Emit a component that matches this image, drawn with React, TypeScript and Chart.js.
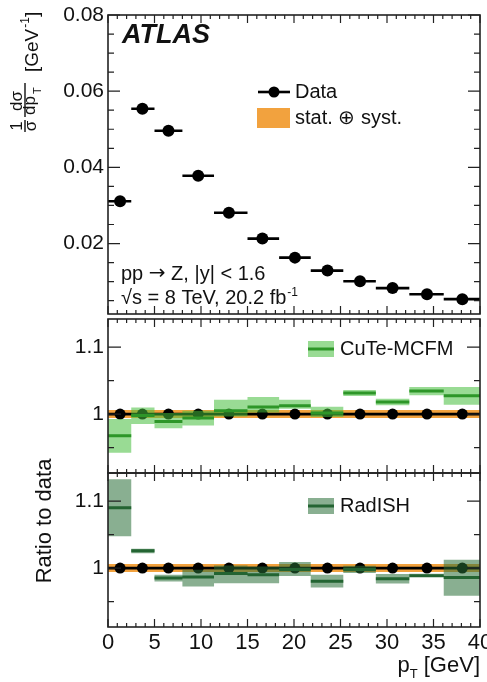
import React, { useEffect, useRef } from 'react';
import { Chart, registerables } from 'chart.js';

Chart.register(...registerables);

const FONT = "'Liberation Sans', Arial, Helvetica, sans-serif";

// ---------------- data ----------------
const binEdges = [0, 2.5, 5, 8, 11.4, 15, 18.4, 21.8, 25.3, 28.8, 32.4, 36.1, 40];
const ptCenters = [1.3, 3.7, 6.5, 9.7, 13.0, 16.6, 20.1, 23.6, 27.1, 30.6, 34.3, 38.1];
const dataValues = [0.0311, 0.0554, 0.0496, 0.0378, 0.0281, 0.0213, 0.0163, 0.0129, 0.0101, 0.0083, 0.0067, 0.0054];

const ratioDataValues = [1, 1, 1, 1, 1, 1, 1, 1, 1, 1, 1, 1];
const dataRatioUp = [1.006, 1.006, 1.006, 1.006, 1.006, 1.006, 1.006, 1.006, 1.006, 1.006, 1.006, 1.006];
const dataRatioDown = [0.994, 0.994, 0.994, 0.994, 0.994, 0.994, 0.994, 0.994, 0.994, 0.994, 0.994, 0.994];

const cuteCentral = [0.9675, 0.998, 0.989, 0.994, 1.005, 1.0105, 1.0125, 1.0015, 1.0315, 1.018, 1.0345, 1.0275];
const cuteUp = [0.9925, 1.0099, 1.0015, 1.005, 1.0215, 1.0255, 1.0215, 1.011, 1.036, 1.023, 1.0405, 1.0405];
const cuteDown = [0.9424, 0.985, 0.979, 0.983, 0.9965, 1.0025, 1.008, 0.9955, 1.027, 1.013, 1.028, 1.014];

const radCentral = [1.09, 1.026, 0.985, 0.9865, 0.992, 0.99, 0.998, 0.9805, 0.998, 0.984, 0.9885, 0.986];
const radUp = [1.1325, 1.0289, 0.99, 0.9975, 1.004, 1.0025, 1.009, 0.99, 1.0035, 0.991, 0.9915, 1.0125];
const radDown = [1.0475, 1.022, 0.98, 0.9725, 0.9775, 0.9775, 0.988, 0.971, 0.9925, 0.977, 0.9865, 0.9585];

// tick values
const xMajorTicks = [0, 5, 10, 15, 20, 25, 30, 35, 40];
const xMinorStep = 1;
const topYMajor = [0.02, 0.04, 0.06, 0.08];
const topYMinorStep = 0.005;
const ratioYMajor = [1, 1.1];
const ratioYMinor = [0.95, 1.05];

// colours
const CUTE_BAND = 'rgba(70,190,60,0.55)';
const CUTE_LINE = 'rgb(45,150,40)';
const RAD_BAND = 'rgba(40,110,55,0.55)';
const RAD_LINE = 'rgb(35,100,50)';
const ORANGE = 'rgb(242,162,62)';
const INK = '#111';

// ---------------- helpers ----------------
const seg = (vals: number[]) =>
  vals.flatMap((v, i) => [
    { x: binEdges[i], y: v },
    { x: binEdges[i + 1], y: v },
    { x: binEdges[i + 1], y: null as any },
  ]);
const band = (vals: number[]) =>
  vals.flatMap((v, i) => [
    { x: binEdges[i], y: v },
    { x: binEdges[i + 1], y: v },
  ]);
const pts = (vals: number[]) => vals.map((v, i) => ({ x: ptCenters[i], y: v }));

const range = (a: number, b: number, s: number) => {
  const out: number[] = [];
  for (let v = a; v <= b + 1e-9; v += s) out.push(+v.toFixed(6));
  return out;
};

function framePlugin(yMajor: number[], yMinor: number[], yMajLen: number, yMinLen: number) {
  const xAll = range(0, 40, xMinorStep);
  return {
    id: 'frameTicks',
    afterDraw(chart: any) {
      const { ctx, chartArea: a, scales } = chart;
      ctx.save();
      ctx.strokeStyle = '#222';
      ctx.lineWidth = 1.2;
      ctx.beginPath();
      xAll.forEach((v) => {
        const px = scales.x.getPixelForValue(v);
        const len = xMajorTicks.includes(v) ? 8 : 4;
        ctx.moveTo(px, a.bottom);
        ctx.lineTo(px, a.bottom - len);
        ctx.moveTo(px, a.top);
        ctx.lineTo(px, a.top + len);
      });
      const yt = (v: number, len: number) => {
        const py = scales.y.getPixelForValue(v);
        ctx.moveTo(a.left, py);
        ctx.lineTo(a.left + len, py);
        ctx.moveTo(a.right, py);
        ctx.lineTo(a.right - len, py);
      };
      yMajor.forEach((v) => yt(v, yMajLen));
      yMinor.forEach((v) => yt(v, yMinLen));
      ctx.stroke();
      ctx.lineWidth = 1.6;
      ctx.strokeRect(a.left, a.top, a.right - a.left, a.bottom - a.top);
      ctx.restore();
    },
  };
}

function textPlugin(id: string, draw: (ctx: CanvasRenderingContext2D, chart: any) => void) {
  return {
    id,
    afterDraw(chart: any) {
      const ctx = chart.ctx as CanvasRenderingContext2D;
      ctx.save();
      draw(ctx, chart);
      ctx.restore();
    },
  };
}

function baseOptions(
  yMin: number,
  yMax: number,
  yLabels: number[],
  yFmt: (v: number) => string,
  padTop: number,
  padBottom: number,
  showX: boolean
): any {
  return {
    responsive: false,
    maintainAspectRatio: false,
    animation: false,
    events: [],
    layout: { padding: { left: 0, right: 7, top: padTop, bottom: padBottom } },
    plugins: { legend: { display: false }, tooltip: { enabled: false }, title: { display: false } },
    elements: { line: { tension: 0 } },
    scales: {
      x: {
        type: 'linear',
        min: 0,
        max: 40,
        display: showX,
        grid: { display: false, drawTicks: false },
        border: { display: false },
        ticks: {
          font: { family: FONT, size: 22 },
          color: INK,
          padding: 3,
          maxRotation: 0,
          autoSkip: false,
          callback: (v: number) => String(v),
        },
        afterBuildTicks: (s: any) => {
          s.ticks = xMajorTicks.map((v) => ({ value: v }));
        },
        afterFit: (s: any) => {
          if (showX) s.height = 55;
          s.paddingLeft = 0;
          s.paddingRight = 0;
        },
      },
      y: {
        type: 'linear',
        min: yMin,
        max: yMax,
        grid: { display: false, drawTicks: false },
        border: { display: false },
        ticks: {
          font: { family: FONT, size: 21 },
          color: INK,
          padding: 4,
          autoSkip: false,
          callback: (v: number) => yFmt(v),
        },
        afterBuildTicks: (s: any) => {
          s.ticks = yLabels.map((v) => ({ value: v }));
        },
        afterFit: (s: any) => {
          s.width = 108;
          s.paddingTop = 0;
          s.paddingBottom = 0;
        },
      },
    },
  };
}

const lineDs = (data: any[], color: string, width: number, extra: any = {}) => ({
  type: 'line',
  data,
  borderColor: color,
  borderWidth: width,
  pointRadius: 0,
  fill: false,
  spanGaps: false,
  ...extra,
});

const bandDs = (data: any[], color: string, fill: any) => ({
  type: 'line',
  data,
  borderWidth: 0,
  borderColor: 'rgba(0,0,0,0)',
  backgroundColor: color,
  pointRadius: 0,
  fill,
});

const pointDs = (data: any[], r: number) => ({
  type: 'line',
  data,
  showLine: false,
  pointRadius: r,
  pointBackgroundColor: '#000',
  pointBorderColor: '#000',
  pointBorderWidth: 0,
});

// ---------------- panels ----------------
const TOP_CANVAS = { top: 0, height: 320 };
const MID_CANVAS = { top: 305, height: 175 };
const BOT_CANVAS = { top: 430, height: 252 };

function drawSup(ctx: CanvasRenderingContext2D, base: string, sup: string, x: number, y: number, size: number) {
  ctx.font = `${size}px ${FONT}`;
  ctx.textBaseline = 'alphabetic';
  ctx.textAlign = 'left';
  ctx.fillText(base, x, y);
  const w = ctx.measureText(base).width;
  ctx.font = `${Math.round(size * 0.62)}px ${FONT}`;
  ctx.fillText(sup, x + w + 1, y - size * 0.42);
}

function topConfig(): any {
  const off = TOP_CANVAS.top;
  const opts = baseOptions(0.0015, 0.08, topYMajor, (v) => v.toFixed(2), 15, 1, false);
  const topMinor = range(0.005, 0.08, topYMinorStep).filter((v) => !topYMajor.some((m) => Math.abs(m - v) < 1e-6));
  return {
    type: 'line',
    data: {
      datasets: [pointDs(pts(dataValues), 6), lineDs(seg(dataValues), '#000', 2.6)],
    },
    options: opts,
    plugins: [
      framePlugin(topYMajor, topMinor, 12, 6),
      textPlugin('topText', (ctx) => {
        ctx.fillStyle = INK;
        // ATLAS
        ctx.font = `italic bold 27px ${FONT}`;
        ctx.textBaseline = 'middle';
        ctx.textAlign = 'left';
        ctx.fillText('ATLAS', 122, 36 - off);
        // legend Data
        ctx.strokeStyle = '#000';
        ctx.lineWidth = 2.6;
        ctx.beginPath();
        ctx.moveTo(258, 92 - off);
        ctx.lineTo(290, 92 - off);
        ctx.stroke();
        ctx.beginPath();
        ctx.arc(274, 92 - off, 5.5, 0, Math.PI * 2);
        ctx.fillStyle = '#000';
        ctx.fill();
        ctx.fillStyle = INK;
        ctx.font = `20px ${FONT}`;
        ctx.textBaseline = 'middle';
        ctx.fillText('Data', 295, 92 - off);
        ctx.fillStyle = ORANGE;
        ctx.fillRect(257, 108 - off, 33, 20);
        ctx.fillStyle = INK;
        ctx.fillText('stat. \u2295 syst.', 295, 118 - off);
        // process text
        ctx.textBaseline = 'alphabetic';
        let x = 121;
        const yb = 280 - off;
        ctx.font = `20px ${FONT}`;
        ctx.fillText('pp ', x, yb);
        x += ctx.measureText('pp ').width;
        ctx.font = `20px 'DejaVu Sans', ${FONT}`;
        ctx.fillText('\u2192', x, yb - 1);
        x += ctx.measureText('\u2192').width;
        ctx.font = `20px ${FONT}`;
        ctx.fillText(' Z, |y| < 1.6', x, yb);
        drawSup(ctx, '\u221As = 8 TeV, 20.2 fb', '-1', 121, 304 - off, 20);
        // y title (rotated)
        ctx.fillStyle = INK;
        ctx.strokeStyle = INK;
        ctx.translate(0, 132 - off);
        ctx.rotate(-Math.PI / 2);
        ctx.textAlign = 'center';
        ctx.textBaseline = 'alphabetic';
        ctx.font = `17px ${FONT}`;
        ctx.fillText('1', 6, 22);
        ctx.fillText('\u03C3', 6, 36);
        ctx.lineWidth = 1.4;
        ctx.beginPath();
        ctx.moveTo(0, 25);
        ctx.lineTo(12, 25);
        ctx.moveTo(15, 25);
        ctx.lineTo(49, 25);
        ctx.stroke();
        ctx.fillText('d\u03C3', 31, 22);
        ctx.textAlign = 'left';
        ctx.fillText('dp', 17, 35);
        const wdp = ctx.measureText('dp').width;
        ctx.font = `11px ${FONT}`;
        ctx.fillText('T', 17 + wdp + 2, 41);
        ctx.font = `19px ${FONT}`;
        ctx.fillText('[GeV', 60, 38);
        const w = ctx.measureText('[GeV').width;
        ctx.font = `12px ${FONT}`;
        ctx.fillText('-1', 60 + w + 1, 29);
        const w2 = ctx.measureText('-1').width;
        ctx.font = `19px ${FONT}`;
        ctx.fillText(']', 60 + w + w2 + 1, 38);
      }),
    ],
  };
}

function ratioConfig(
  central: number[],
  up: number[],
  down: number[],
  bandColor: string,
  lineColor: string,
  label: string,
  canvas: { top: number; height: number },
  padTop: number,
  padBottom: number,
  showX: boolean,
  legendY: number,
  extraDraw?: (ctx: CanvasRenderingContext2D, chart: any) => void
): any {
  const off = canvas.top;
  const opts = baseOptions(0.912, 1.142, ratioYMajor, (v) => String(+v.toFixed(2)), padTop, padBottom, showX);
  return {
    type: 'line',
    data: {
      datasets: [
        lineDs(seg(central), lineColor, 3),
        bandDs(band(up), bandColor, '+1'),
        bandDs(band(down), 'rgba(0,0,0,0)', false),
        pointDs(pts(ratioDataValues), 5.5),
        lineDs(band(ratioDataValues), '#000', 2.6),
        bandDs(band(dataRatioUp), ORANGE, '+1'),
        bandDs(band(dataRatioDown), 'rgba(0,0,0,0)', false),
      ],
    },
    options: opts,
    plugins: [
      framePlugin(ratioYMajor, ratioYMinor, 13, 6),
      textPlugin('ratioText' + label, (ctx, chart) => {
        // legend
        ctx.fillStyle = bandColor;
        ctx.fillRect(308, legendY - 8 - off, 26, 16);
        ctx.strokeStyle = lineColor;
        ctx.lineWidth = 3;
        ctx.beginPath();
        ctx.moveTo(308, legendY - off);
        ctx.lineTo(334, legendY - off);
        ctx.stroke();
        ctx.fillStyle = INK;
        ctx.font = `20px ${FONT}`;
        ctx.textBaseline = 'middle';
        ctx.textAlign = 'left';
        ctx.fillText(label, 340, legendY - off);
        if (extraDraw) extraDraw(ctx, chart);
      }),
    ],
  };
}

function midConfig() {
  return ratioConfig(cuteCentral, cuteUp, cuteDown, CUTE_BAND, CUTE_LINE, 'CuTe-MCFM', MID_CANVAS, 14, 7, false, 349);
}

function botConfig() {
  const off = BOT_CANVAS.top;
  return ratioConfig(radCentral, radUp, radDown, RAD_BAND, RAD_LINE, 'RadISH', BOT_CANVAS, 43, 0, true, 506, (ctx, chart) => {
    ctx.fillStyle = INK;
    // x title
    ctx.textBaseline = 'alphabetic';
    ctx.textAlign = 'right';
    const right = chart.chartArea.right;
    ctx.font = `22px ${FONT}`;
    const t2 = ' [GeV]';
    const w2 = ctx.measureText(t2).width;
    ctx.fillText(t2, right, 672 - off);
    ctx.font = `13px ${FONT}`;
    const wT = ctx.measureText('T').width;
    ctx.fillText('T', right - w2, 678 - off);
    ctx.font = `22px ${FONT}`;
    ctx.fillText('p', right - w2 - wT, 672 - off);
    // Ratio to data
    ctx.save();
    ctx.translate(45, 521 - off);
    ctx.rotate(-Math.PI / 2);
    ctx.textAlign = 'center';
    ctx.textBaseline = 'middle';
    ctx.font = `22px ${FONT}`;
    ctx.fillText('Ratio to data', 0, 0);
    ctx.restore();
  });
}

function Panel({ cfg, pos }: { cfg: () => any; pos: { top: number; height: number } }) {
  const ref = useRef<HTMLCanvasElement | null>(null);
  useEffect(() => {
    if (!ref.current) return;
    const chart = new Chart(ref.current, cfg());
    return () => chart.destroy();
  }, [cfg]);
  return (
    <canvas
      ref={ref}
      width={487}
      height={pos.height}
      style={{ position: 'absolute', left: 0, top: pos.top, width: 487, height: pos.height }}
    />
  );
}

export default function App() {
  return (
    <div style={{ position: 'absolute', left: 0, top: 0, width: 487, height: 682, background: '#fff', overflow: 'hidden' }}>
      <Panel cfg={topConfig} pos={TOP_CANVAS} />
      <Panel cfg={midConfig} pos={MID_CANVAS} />
      <Panel cfg={botConfig} pos={BOT_CANVAS} />
    </div>
  );
}
